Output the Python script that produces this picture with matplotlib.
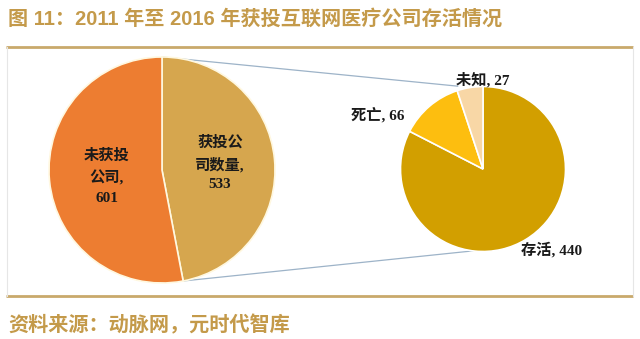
import matplotlib
matplotlib.use("Agg")
import matplotlib.pyplot as plt
import numpy as np

title = "图 11：2011 年至 2016 年获投互联网医疗公司存活情况"
source = "资料来源：动脉网，元时代智库"

left_labels = ["获投公\n司数量,\n533", "未获投\n公司,\n601"]
left_values = [533, 601]
right_labels = ["存活, 440", "死亡, 66", "未知, 27"]
right_values = [440, 66, 27]

fams = ["Liberation Serif", "Noto Sans CJK SC"]
W, H = 640, 339
fig = plt.figure(figsize=(6.4, 3.39), dpi=100)
ax = fig.add_axes([0, 0, 1, 1])
ax.set_xlim(0, W)
ax.set_ylim(0, H)
ax.set_aspect("equal")
ax.axis("off")

gold = "#C9A96B"
# title
ax.text(8, H - 19, title, fontsize=14.5, fontweight="bold", color="#C49A4A",
        family=["Liberation Sans", "Noto Sans CJK SC"], va="center", ha="left")
ax.plot([6, 633], [H - 47, H - 47], color=gold, lw=2, solid_capstyle="butt")
ax.plot([6, 633], [H - 296, H - 296], color=gold, lw=2, solid_capstyle="butt")
ax.plot([7, 7], [H - 296, H - 47], color="#E6E6E6", lw=0.8)
ax.plot([633, 633], [H - 296, H - 47], color="#E6E6E6", lw=0.8)
ax.text(8, H - 325, source, fontsize=14.5, fontweight="bold", color="#C49A4A",
        family=["Noto Sans CJK SC"], va="center", ha="left")

# left pie
lc = (162, H - 170)
lr = 113
ax.pie(left_values, colors=["#D6A64E", "#ED7D31"], startangle=90, counterclock=False,
       center=lc, radius=lr, wedgeprops=dict(edgecolor="#FFF8E0", linewidth=1.2),
       frame=True)
# right pie
rc = (483, H - 169)
rr = 82.5
ax.pie(right_values, colors=["#D29F00", "#FDBE0F", "#F8D7A6"], startangle=90, counterclock=False,
       center=rc, radius=rr, wedgeprops=dict(edgecolor="#FFFFFF", linewidth=1.2),
       frame=True)
ax.set_xlim(0, W)
ax.set_ylim(0, H)
ax.axis("off")

# connectors
frac = left_values[0] / sum(left_values)
a_end = np.deg2rad(90 - 360 * frac)
p1 = (lc[0], lc[1] + lr)
q1 = (rc[0] + rr * np.cos(np.deg2rad(107)) * 1.05, rc[1] + rr * np.sin(np.deg2rad(107)) * 1.05)
p2 = (lc[0] + lr * np.cos(a_end), lc[1] + lr * np.sin(a_end))
q2 = (rc[0] + rr * np.cos(np.deg2rad(-97)), rc[1] + rr * np.sin(np.deg2rad(-97)))
for p, q in [(p1, q1), (p2, q2)]:
    ax.plot([p[0], q[0]], [p[1], q[1]], color="#9DB3C8", lw=0.9, zorder=0)

lab_kw = dict(fontsize=11, fontweight="bold", color="#1a1a1a", family=fams,
              ha="center", va="center", linespacing=1.6)
ax.text(220, H - 163, left_labels[0], **lab_kw)
ax.text(107, H - 177, left_labels[1], **lab_kw)
ax.text(552, H - 250, right_labels[0], **lab_kw)
ax.text(378, H - 115, right_labels[1], **lab_kw)
ax.text(483, H - 80, right_labels[2], **lab_kw)

fig.savefig("out.png", dpi=100, facecolor="white")
